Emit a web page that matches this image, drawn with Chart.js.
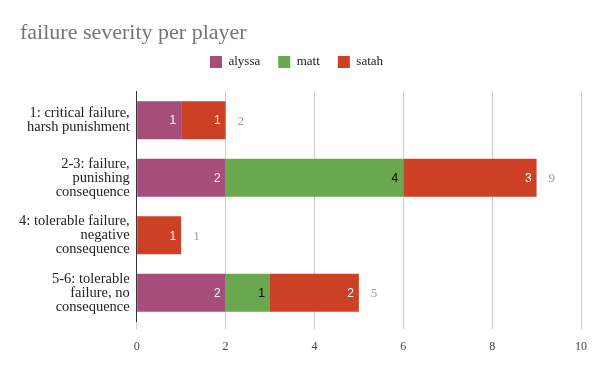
<!DOCTYPE html>
<html>
<head>
<meta charset="utf-8">
<script src="https://cdn.jsdelivr.net/npm/chart.js@4"></script>
<style>
  html, body { margin: 0; padding: 0; background: #fff; }
  #wrap { width: 600px; height: 371px; }
</style>
</head>
<body>
<div id="wrap"><canvas id="chart"></canvas></div>
<script>
const categories = [
  ['1: critical failure,', 'harsh punishment'],
  ['2-3: failure,', 'punishing', 'consequence'],
  ['4: tolerable failure,', 'negative', 'consequence'],
  ['5-6: tolerable', 'failure, no', 'consequence']
];
const alyssa = [1, 2, 0, 2];
const matt = [0, 4, 0, 1];
const satah = [1, 3, 1, 2];
const xTicks = [0, 2, 4, 6, 8, 10];

const serif = "'Liberation Serif', 'DejaVu Serif', serif";
const sans = "'Liberation Sans', Arial, sans-serif";

// extra room between the legend and the plot, title nudged right
const layoutTweaks = {
  id: 'layoutTweaks',
  beforeInit: chart => {
    const fit = chart.legend.fit;
    chart.legend.fit = function () {
      fit.call(this);
      this.height += 13;
    };
  },
  afterLayout: chart => {
    if (chart.titleBlock) {
      chart.titleBlock.left += 8;
      chart.titleBlock.right += 8;
    }
  }
};

const barLabelPlugin = {
  id: 'barLabels',
  afterDatasetsDraw: chart => {
    const ctx = chart.ctx;
    ctx.save();
    ctx.textBaseline = 'middle';
    ctx.font = '12px ' + sans;
    chart.data.datasets.forEach((ds, di) => {
      const meta = chart.getDatasetMeta(di);
      meta.data.forEach((bar, i) => {
        if (!ds.data[i]) return;
        ctx.fillStyle = ds.labelColor;
        ctx.textAlign = 'right';
        ctx.fillText(String(ds.data[i]), bar.x - 5, bar.y + 1);
      });
    });
    const totals = categories.map((_, i) => alyssa[i] + matt[i] + satah[i]);
    const x = chart.scales.x;
    const y = chart.scales.y;
    ctx.font = '13px ' + serif;
    ctx.fillStyle = '#999999';
    ctx.textAlign = 'left';
    totals.forEach((t, i) => {
      ctx.fillText(String(t), x.getPixelForValue(t) + 12, y.getPixelForValue(i) + 1);
    });
    ctx.restore();
  }
};

new Chart(document.getElementById('chart'), {
  type: 'bar',
  data: {
    labels: categories,
    datasets: [
      { label: 'alyssa', data: alyssa, backgroundColor: '#a64d79', labelColor: '#ffffff' },
      { label: 'matt', data: matt, backgroundColor: '#6aa84f', labelColor: '#000000' },
      { label: 'satah', data: satah, backgroundColor: '#cc4125', labelColor: '#ffffff' }
    ]
  },
  options: {
    indexAxis: 'y',
    responsive: true,
    maintainAspectRatio: false,
    animation: false,
    layout: { padding: { left: 12, right: 19, top: 6, bottom: 7 } },
    datasets: {
      bar: { categoryPercentage: 0.66, barPercentage: 1, borderWidth: 0 }
    },
    scales: {
      x: {
        stacked: true,
        min: 0,
        max: 10,
        afterBuildTicks: axis => { axis.ticks = xTicks.map(v => ({ value: v })); },
        ticks: { color: '#444444', padding: 10, font: { size: 12, family: serif } },
        grid: { color: '#cccccc', drawTicks: true, tickLength: 8 },
        border: { display: false }
      },
      y: {
        stacked: true,
        ticks: { color: '#222222', padding: 7, font: { size: 14.5, family: serif, lineHeight: '14px' } },
        grid: { display: false, drawTicks: false },
        border: { display: true, color: '#333333', width: 1 }
      }
    },
    plugins: {
      title: {
        display: true,
        text: 'failure severity per player',
        align: 'start',
        color: '#757575',
        font: { size: 22, family: serif, weight: 'normal' },
        padding: { top: 14, bottom: -9 }
      },
      legend: {
        display: true,
        labels: {
          color: '#222222',
          boxWidth: 12,
          boxHeight: 12,
          padding: 18,
          font: { size: 13, family: serif }
        }
      },
      tooltip: { enabled: false }
    }
  },
  plugins: [layoutTweaks, barLabelPlugin]
});
</script>
</body>
</html>
